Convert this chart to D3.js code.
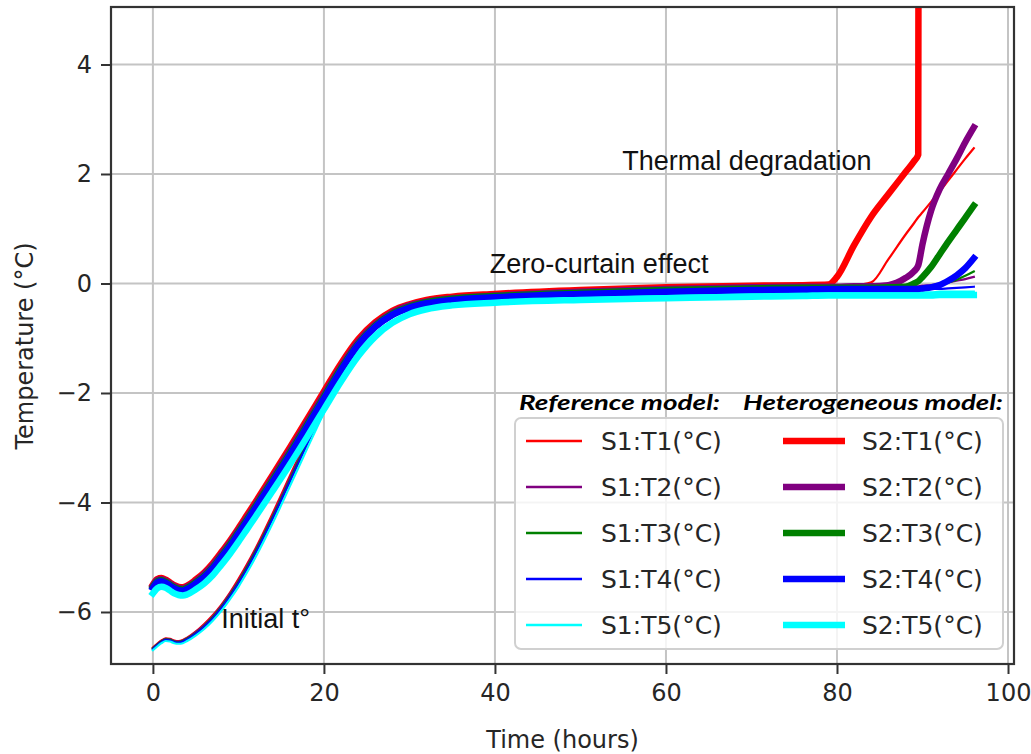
<!DOCTYPE html>
<html><head><meta charset="utf-8">
<script src="https://cdn.jsdelivr.net/npm/d3@7"></script>
<style>body{margin:0;background:#fff}</style>
</head><body><svg id="c" width="1031" height="754" xmlns="http://www.w3.org/2000/svg"></svg>
<script>
// ---------- DATA ----------
const hours = [0,0.5,1,1.5,2,2.5,3,3.5,4,5,6,7,8,9,10,11,12,14,16,18,20,22,24,26,28,30,32,35,40,50,60,70,76,79,80,82,84,86,88,89,89.5,90,91,92,93,94,95,96];

// Reference model (S1)
const s1t1 = [-6.65,-6.58,-6.52,-6.48,-6.49,-6.52,-6.53,-6.51,-6.47,-6.36,-6.22,-6.06,-5.87,-5.65,-5.40,-5.13,-4.84,-4.20,-3.52,-2.84,-2.17,-1.56,-1.08,-0.76,-0.55,-0.42,-0.34,-0.27,-0.21,-0.14,-0.09,-0.06,-0.05,-0.04,-0.04,-0.03,0.02,0.44,0.89,1.10,1.21,1.30,1.49,1.68,1.88,2.08,2.28,2.47];
const s1t2 = [-6.66,-6.59,-6.53,-6.49,-6.50,-6.53,-6.54,-6.52,-6.48,-6.37,-6.24,-6.08,-5.89,-5.67,-5.43,-5.16,-4.87,-4.24,-3.56,-2.88,-2.21,-1.60,-1.11,-0.79,-0.58,-0.45,-0.37,-0.30,-0.24,-0.17,-0.12,-0.09,-0.08,-0.07,-0.07,-0.07,-0.07,-0.06,-0.06,-0.05,-0.05,-0.04,-0.03,-0.01,0.02,0.05,0.08,0.12];
const s1t3 = [-6.67,-6.60,-6.54,-6.50,-6.51,-6.54,-6.55,-6.53,-6.49,-6.39,-6.26,-6.10,-5.91,-5.70,-5.46,-5.19,-4.90,-4.27,-3.60,-2.92,-2.25,-1.63,-1.14,-0.81,-0.60,-0.47,-0.39,-0.32,-0.26,-0.19,-0.14,-0.11,-0.10,-0.09,-0.09,-0.09,-0.09,-0.09,-0.08,-0.08,-0.08,-0.07,-0.05,-0.02,0.02,0.07,0.14,0.22];
const s1t4 = [-6.68,-6.61,-6.55,-6.51,-6.52,-6.55,-6.56,-6.54,-6.50,-6.40,-6.27,-6.12,-5.93,-5.72,-5.48,-5.22,-4.93,-4.30,-3.63,-2.95,-2.28,-1.66,-1.17,-0.84,-0.62,-0.49,-0.41,-0.34,-0.28,-0.21,-0.16,-0.13,-0.12,-0.11,-0.11,-0.11,-0.11,-0.11,-0.11,-0.11,-0.11,-0.11,-0.10,-0.10,-0.09,-0.08,-0.07,-0.06];
const s1t5 = [-6.70,-6.63,-6.57,-6.53,-6.54,-6.57,-6.58,-6.57,-6.53,-6.43,-6.31,-6.16,-5.98,-5.77,-5.54,-5.28,-5.00,-4.38,-3.71,-3.03,-2.36,-1.74,-1.24,-0.90,-0.68,-0.55,-0.46,-0.39,-0.33,-0.26,-0.21,-0.18,-0.17,-0.16,-0.16,-0.16,-0.16,-0.16,-0.16,-0.16,-0.16,-0.16,-0.16,-0.15,-0.15,-0.15,-0.15,-0.15];

// Heterogeneous model (S2)
const s2t1 = [-5.50,-5.40,-5.38,-5.41,-5.46,-5.51,-5.54,-5.55,-5.52,-5.41,-5.28,-5.11,-4.91,-4.70,-4.47,-4.23,-3.99,-3.50,-3.00,-2.49,-1.97,-1.46,-1.02,-0.71,-0.50,-0.38,-0.30,-0.24,-0.19,-0.12,-0.07,-0.04,-0.03,-0.02,0.12,0.70,1.22,1.63,2.03,2.23,2.35,60,null,null,null,null,null,null];
const s2t2 = [-5.52,-5.42,-5.40,-5.43,-5.48,-5.53,-5.56,-5.57,-5.54,-5.44,-5.31,-5.15,-4.95,-4.74,-4.51,-4.28,-4.04,-3.55,-3.06,-2.55,-2.03,-1.52,-1.07,-0.75,-0.53,-0.40,-0.33,-0.27,-0.22,-0.15,-0.10,-0.07,-0.06,-0.06,-0.06,-0.05,-0.05,-0.03,0.10,0.22,0.33,0.72,1.33,1.72,2.00,2.28,2.58,2.85];
const s2t3 = [-5.54,-5.44,-5.42,-5.45,-5.50,-5.55,-5.58,-5.59,-5.56,-5.46,-5.34,-5.18,-4.98,-4.77,-4.54,-4.31,-4.07,-3.59,-3.10,-2.59,-2.07,-1.55,-1.10,-0.77,-0.55,-0.42,-0.34,-0.28,-0.23,-0.17,-0.12,-0.09,-0.08,-0.08,-0.08,-0.08,-0.08,-0.07,-0.06,0.00,0.04,0.12,0.30,0.53,0.76,0.98,1.20,1.42];
const s2t4 = [-5.56,-5.46,-5.44,-5.47,-5.52,-5.57,-5.60,-5.61,-5.58,-5.48,-5.36,-5.20,-5.00,-4.80,-4.57,-4.34,-4.10,-3.62,-3.13,-2.62,-2.10,-1.58,-1.12,-0.79,-0.57,-0.44,-0.36,-0.30,-0.25,-0.19,-0.15,-0.12,-0.11,-0.10,-0.10,-0.10,-0.10,-0.10,-0.10,-0.10,-0.10,-0.09,-0.07,-0.03,0.05,0.15,0.28,0.46];
const s2t5 = [-5.66,-5.57,-5.54,-5.56,-5.61,-5.66,-5.69,-5.70,-5.68,-5.59,-5.48,-5.33,-5.14,-4.94,-4.72,-4.49,-4.26,-3.79,-3.31,-2.81,-2.30,-1.79,-1.33,-0.97,-0.72,-0.56,-0.47,-0.40,-0.35,-0.30,-0.27,-0.24,-0.23,-0.22,-0.22,-0.22,-0.22,-0.22,-0.22,-0.22,-0.22,-0.22,-0.22,-0.21,-0.21,-0.21,-0.21,-0.21];

const s1Labels = ["S1:T1(°C)","S1:T2(°C)","S1:T3(°C)","S1:T4(°C)","S1:T5(°C)"];
const s2Labels = ["S2:T1(°C)","S2:T2(°C)","S2:T3(°C)","S2:T4(°C)","S2:T5(°C)"];
const sensorColors = ["#ff0000","#800080","#008000","#0000ff","#00ffff"];
const xTicks = [0,20,40,60,80,100];
const yTicks = [-6,-4,-2,0,2,4];
const xDomain = [-4.9, 100.7];
const yDomain = [-6.95, 5.05];
const legendTitles = ["Reference model:","Heterogeneous model:"];
const annotations = [
  {text:"Thermal degradation", t:54.9, v:2.08},
  {text:"Zero-curtain effect", t:39.4, v:0.2},
  {text:"Initial t°", t:8.0, v:-6.3}
];

// ---------- CHART ----------
const svg = d3.select("#c");
const L=111, R=1014, T=7, B=664;
const x = d3.scaleLinear().domain(xDomain).range([L,R]);
const y = d3.scaleLinear().domain(yDomain).range([B,T]);
const tickFont = "'DejaVu Sans', sans-serif";
const textCol = "#262626";

// grid
const grid = svg.append("g");
grid.selectAll("line.gx").data(xTicks).join("line")
  .attr("x1",d=>x(d)).attr("x2",d=>x(d)).attr("y1",T).attr("y2",B)
  .attr("stroke","#c4c4c4").attr("stroke-width",2);
grid.selectAll("line.gy").data(yTicks).join("line")
  .attr("y1",d=>y(d)).attr("y2",d=>y(d)).attr("x1",L).attr("x2",R)
  .attr("stroke","#c4c4c4").attr("stroke-width",2);

// clip
svg.append("clipPath").attr("id","clip").append("rect")
  .attr("x",L).attr("y",T).attr("width",R-L).attr("height",B-T);

const line = d3.line().defined(d=>d[1]!==null)
  .x(d=>x(d[0])).y(d=>y(d[1])).curve(d3.curveMonotoneX);

const s1 = [s1t1,s1t2,s1t3,s1t4,s1t5];
const s2 = [s2t1,s2t2,s2t3,s2t4,s2t5];
const lines = svg.append("g").attr("clip-path","url(#clip)");
s1.forEach((vals,i)=>{
  lines.append("path").datum(hours.map((h,j)=>[h,vals[j]]))
    .attr("d",line).attr("fill","none").attr("stroke",sensorColors[i])
    .attr("stroke-width",2.2).attr("stroke-linejoin","round").attr("stroke-linecap","square");
});
s2.forEach((vals,i)=>{
  lines.append("path").datum(hours.map((h,j)=>[h,vals[j]]))
    .attr("d",line).attr("fill","none").attr("stroke",sensorColors[i])
    .attr("stroke-width",6.5).attr("stroke-linejoin","round").attr("stroke-linecap","square");
});

// axes
const xAxis = svg.append("g").attr("transform",`translate(0,${B})`)
  .call(d3.axisBottom(x).tickValues(xTicks).tickSize(10).tickPadding(10).tickFormat(d3.format("d")));
const yAxis = svg.append("g").attr("transform",`translate(${L},0)`)
  .call(d3.axisLeft(y).tickValues(yTicks).tickSize(10).tickPadding(9).tickFormat(d=>d<0?"\u2212"+Math.abs(d):d));
[xAxis,yAxis].forEach(a=>{
  a.select(".domain").remove();
  a.selectAll(".tick line").attr("stroke","#333").attr("stroke-width",2);
  a.selectAll(".tick text").attr("font-family",tickFont).attr("font-size",24).attr("fill",textCol);
});
// frame
svg.append("rect").attr("x",L).attr("y",T).attr("width",R-L).attr("height",B-T)
  .attr("fill","none").attr("stroke","#333").attr("stroke-width",2.2);

// axis labels
svg.append("text").attr("x",(L+R)/2).attr("y",748).attr("text-anchor","middle")
  .attr("font-family",tickFont).attr("font-size",24).attr("fill",textCol).text("Time (hours)");
svg.append("text").attr("transform","translate(33,346) rotate(-90)").attr("text-anchor","middle")
  .attr("font-family",tickFont).attr("font-size",24).attr("fill",textCol).text("Temperature (°C)");

// legend
const lg = svg.append("g");
lg.append("rect").attr("x",515).attr("y",418).attr("width",488).attr("height",231).attr("rx",6)
  .attr("fill","#fff").attr("fill-opacity",0.82).attr("stroke","#d0d0d0").attr("stroke-width",2);
const rowY = i => 441 + i*46;
s1Labels.forEach((lab,i)=>{
  lg.append("line").attr("x1",526).attr("x2",582).attr("y1",rowY(i)).attr("y2",rowY(i))
    .attr("stroke",sensorColors[i]).attr("stroke-width",2.4);
  lg.append("text").attr("x",601).attr("y",rowY(i)).attr("dy","0.36em")
    .attr("font-family",tickFont).attr("font-size",25).attr("fill",textCol).text(lab);
});
s2Labels.forEach((lab,i)=>{
  lg.append("line").attr("x1",783).attr("x2",845).attr("y1",rowY(i)).attr("y2",rowY(i))
    .attr("stroke",sensorColors[i]).attr("stroke-width",6.5);
  lg.append("text").attr("x",862).attr("y",rowY(i)).attr("dy","0.36em")
    .attr("font-family",tickFont).attr("font-size",25).attr("fill",textCol).text(lab);
});
svg.append("text").attr("x",519).attr("y",410).attr("font-family","Lato, 'Liberation Sans', sans-serif")
  .attr("font-weight","bold").attr("font-style","italic").attr("font-size",21)
  .attr("textLength",201).attr("lengthAdjust","spacingAndGlyphs").attr("fill","#000").text(legendTitles[0]);
svg.append("text").attr("x",743).attr("y",410).attr("font-family","Lato, 'Liberation Sans', sans-serif")
  .attr("font-weight","bold").attr("font-style","italic").attr("font-size",21)
  .attr("textLength",260).attr("lengthAdjust","spacingAndGlyphs").attr("fill","#000").text(legendTitles[1]);

// annotations
svg.selectAll("text.ann").data(annotations).join("text").attr("class","ann")
  .attr("x",d=>x(d.t)).attr("y",d=>y(d.v))
  .attr("font-family","'Liberation Sans', Arial, sans-serif").attr("font-size",27)
  .attr("fill","#111").text(d=>d.text);
</script></body></html>
